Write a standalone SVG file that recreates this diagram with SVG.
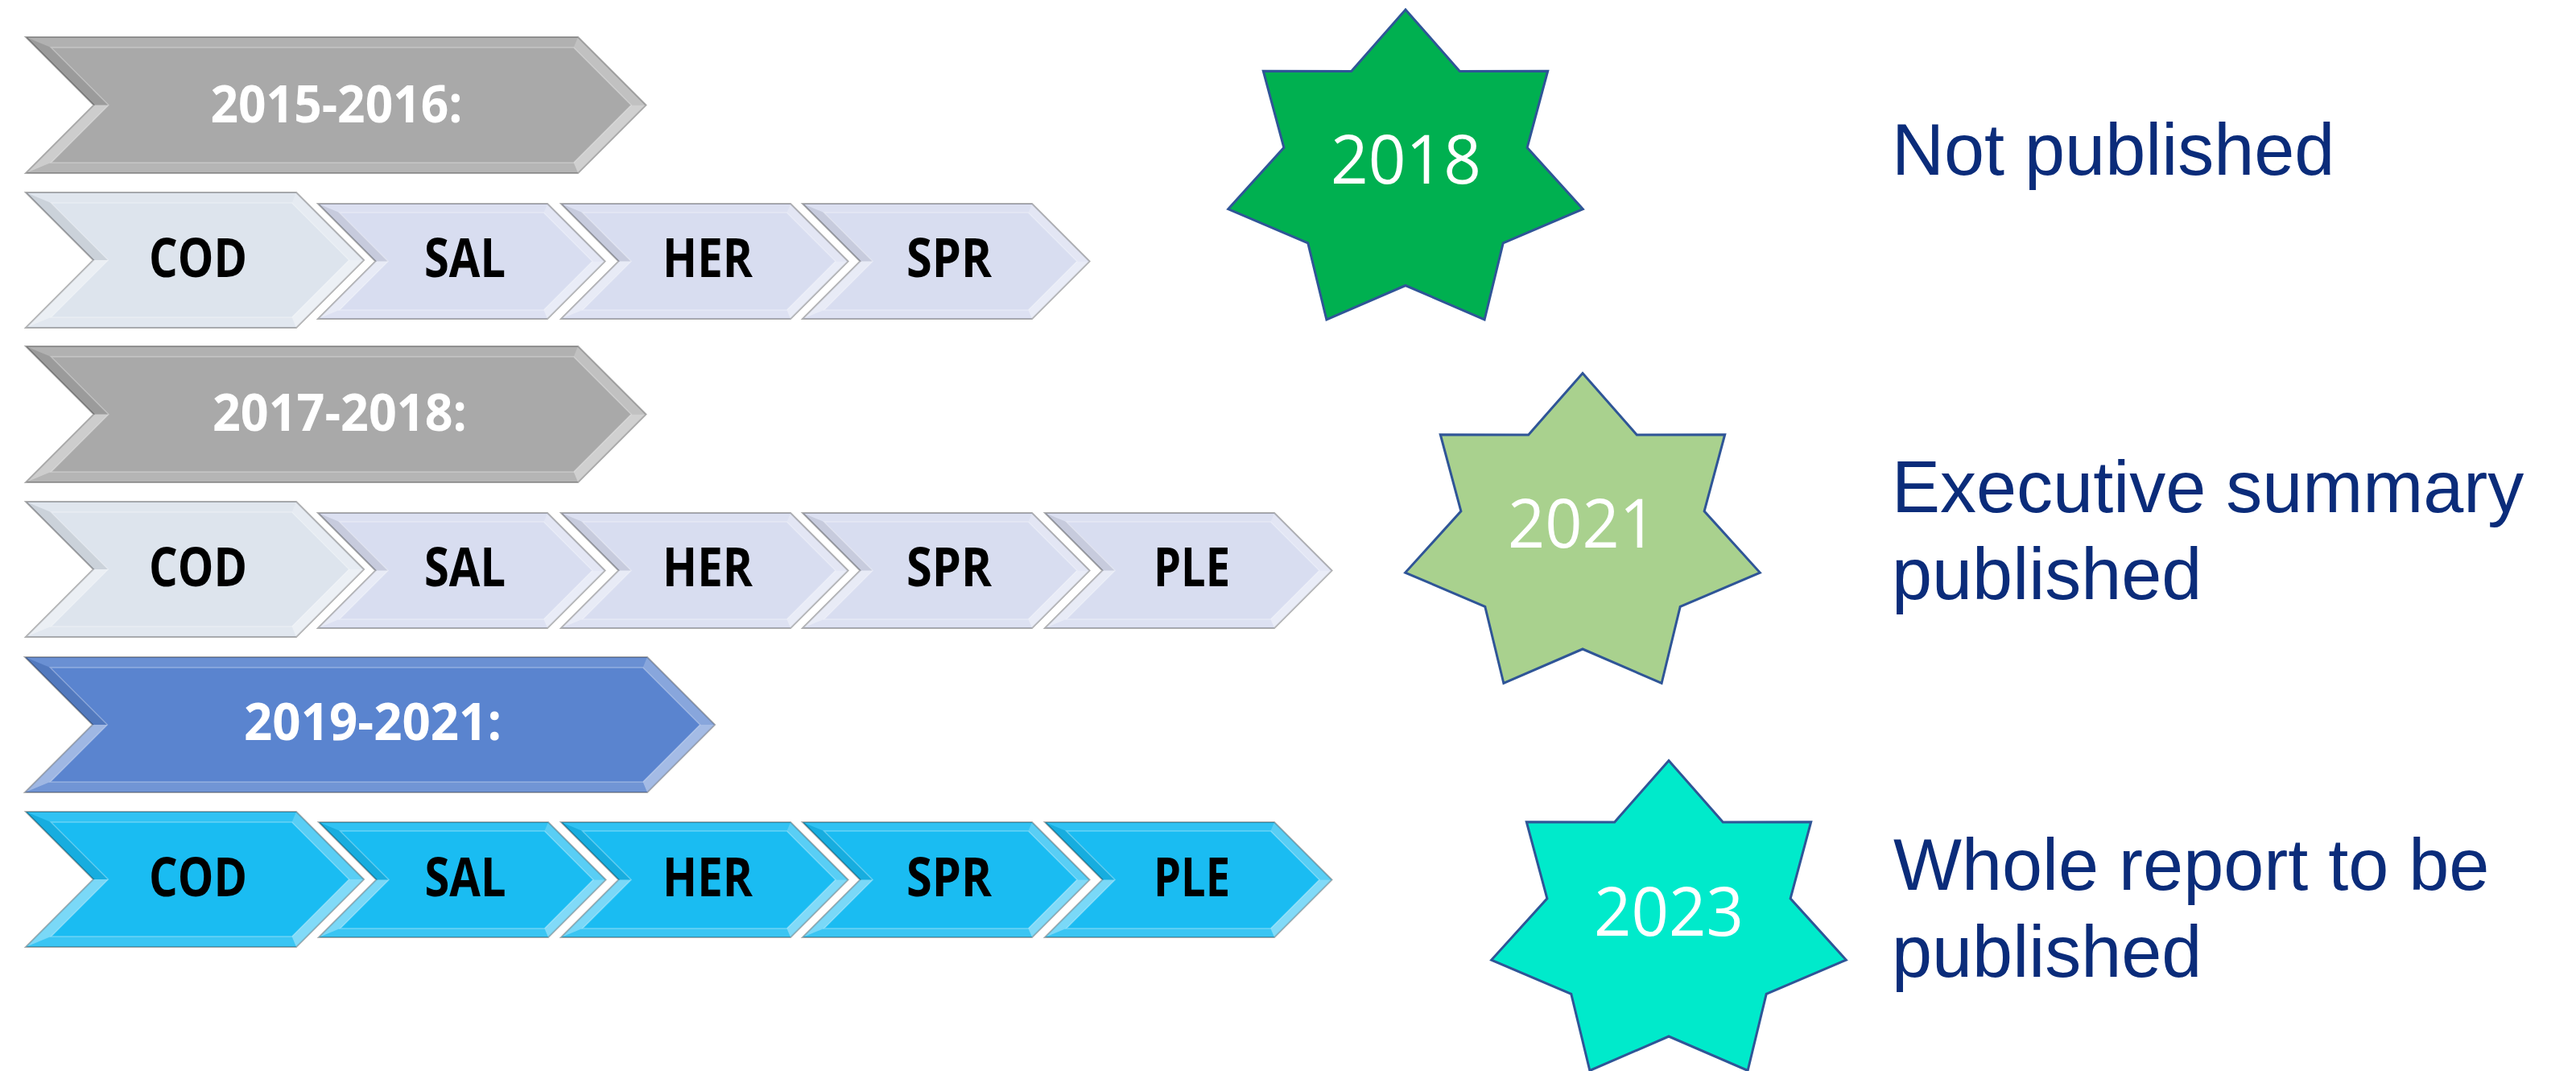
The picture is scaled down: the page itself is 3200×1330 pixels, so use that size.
<svg xmlns="http://www.w3.org/2000/svg" width="3200" height="1330" viewBox="0 0 3200 1330">
<style>
.base{stroke:#000;stroke-opacity:.32;stroke-width:2;stroke-linejoin:miter}
.ft{fill:#fff;fill-opacity:.10}
.fur{fill:#fff;fill-opacity:.28}
.flr{fill:#fff;fill-opacity:.45}
.fb{fill:#fff;fill-opacity:.14}
.fll{fill:#fff;fill-opacity:.42}
.ful{fill:#000;fill-opacity:.08}
.inner{fill:none;stroke:#fff;stroke-opacity:.3;stroke-width:1.5}
.hdr{font-family:"Open Sans","Liberation Sans",sans-serif;font-weight:700;font-size:64px;fill:#fff;text-anchor:middle}
.lbl{font-family:"Open Sans","Liberation Sans",sans-serif;font-weight:700;font-size:66px;fill:#000;text-anchor:middle}
.yr{font-family:"Open Sans","Liberation Sans",sans-serif;font-weight:400;font-size:85px;fill:#fff;text-anchor:middle}
.note{font-family:"Liberation Sans",Arial,sans-serif;font-size:90px;fill:#0B2C7A}
.star{stroke:#2F5597;stroke-width:3;stroke-linejoin:miter}
</style>
<defs>
<g id="chHdr">
<polygon class="base" points="0,0 686,0 770.5,84.5 686,169 0,169 84.5,84.5"/>
<polygon class="ft" points="0,0 686,0 680.6,13 31.4,13"/>
<polygon class="fur" points="686,0 770.5,84.5 752.1,84.5 680.6,13"/>
<polygon class="flr" points="770.5,84.5 686,169 680.6,156 752.1,84.5"/>
<polygon class="fb" points="686,169 0,169 31.4,156 680.6,156"/>
<polygon class="fll" points="0,169 84.5,84.5 102.9,84.5 31.4,156"/>
<polygon class="ful" points="84.5,84.5 0,0 31.4,13 102.9,84.5"/>
<polygon class="inner" points="31.4,13 680.6,13 752.1,84.5 680.6,156 31.4,156 102.9,84.5"/>
</g>
<g id="chHdr3">
<polygon class="base" points="0,0 773,0 857,84 773,168 0,168 84,84"/>
<polygon class="ft" points="0,0 773,0 767.6,13 31.4,13"/>
<polygon class="fur" points="773,0 857,84 838.6,84 767.6,13"/>
<polygon class="flr" points="857,84 773,168 767.6,155 838.6,84"/>
<polygon class="fb" points="773,168 0,168 31.4,155 767.6,155"/>
<polygon class="fll" points="0,168 84,84 102.4,84 31.4,155"/>
<polygon class="ful" points="84,84 0,0 31.4,13 102.4,84"/>
<polygon class="inner" points="31.4,13 767.6,13 838.6,84 767.6,155 31.4,155 102.4,84"/>
</g>
<g id="chCod">
<polygon class="base" points="0,0 336,0 420,84 336,168 0,168 84,84"/>
<polygon class="ft" points="0,0 336,0 330.6,13 31.4,13"/>
<polygon class="fur" points="336,0 420,84 401.6,84 330.6,13"/>
<polygon class="flr" points="420,84 336,168 330.6,155 401.6,84"/>
<polygon class="fb" points="336,168 0,168 31.4,155 330.6,155"/>
<polygon class="fll" points="0,168 84,84 102.4,84 31.4,155"/>
<polygon class="ful" points="84,84 0,0 31.4,13 102.4,84"/>
<polygon class="inner" points="31.4,13 330.6,13 401.6,84 330.6,155 31.4,155 102.4,84"/>
</g>
<g id="chSm">
<polygon class="base" points="0,0 285,0 356.5,71.5 285,143 0,143 71.5,71.5"/>
<polygon class="ft" points="0,0 285,0 280.4,11 26.6,11"/>
<polygon class="fur" points="285,0 356.5,71.5 340.9,71.5 280.4,11"/>
<polygon class="flr" points="356.5,71.5 285,143 280.4,132 340.9,71.5"/>
<polygon class="fb" points="285,143 0,143 26.6,132 280.4,132"/>
<polygon class="fll" points="0,143 71.5,71.5 87.1,71.5 26.6,132"/>
<polygon class="ful" points="71.5,71.5 0,0 26.6,11 87.1,71.5"/>
<polygon class="inner" points="26.6,11 280.4,11 340.9,71.5 280.4,132 26.6,132 87.1,71.5"/>
</g>
<polygon id="star7" class="star" points="0,-202.5 67.3,-126.1 176.7,-126.3 151.1,-31.2 220.3,45.1 121.2,87.3 98.1,182.5 0,140 -98.1,182.5 -121.2,87.3 -220.3,45.1 -151.1,-31.2 -176.7,-126.3 -67.3,-126.1"/>
</defs>

<g id="connectors"></g>

<!-- Row 1: 2015-2016 -->
<g id="hdr-2015"><use href="#chHdr" x="32" y="46" fill="#A9A9A9"/><text class="hdr" x="418" y="152" textLength="313" lengthAdjust="spacingAndGlyphs">2015-2016:</text></g>
<g id="r1-cod"><use href="#chCod" x="32" y="239" fill="#DDE4ED"/><text class="lbl" x="246" y="344" textLength="122" lengthAdjust="spacingAndGlyphs">COD</text></g>
<g id="r1-sal"><use href="#chSm" x="395" y="253" fill="#D8DDF0"/><text class="lbl" x="577.5" y="344" textLength="101" lengthAdjust="spacingAndGlyphs">SAL</text></g>
<g id="r1-her"><use href="#chSm" x="697" y="253" fill="#D8DDF0"/><text class="lbl" x="879" y="344" textLength="112" lengthAdjust="spacingAndGlyphs">HER</text></g>
<g id="r1-spr"><use href="#chSm" x="997" y="253" fill="#D8DDF0"/><text class="lbl" x="1179" y="344" textLength="106" lengthAdjust="spacingAndGlyphs">SPR</text></g>

<!-- Row 2: 2017-2018 -->
<g id="hdr-2017"><use href="#chHdr" x="32" y="430" fill="#A9A9A9"/><text class="hdr" x="422" y="535" textLength="316" lengthAdjust="spacingAndGlyphs">2017-2018:</text></g>
<g id="r2-cod"><use href="#chCod" x="32" y="623" fill="#DDE4ED"/><text class="lbl" x="246" y="728" textLength="122" lengthAdjust="spacingAndGlyphs">COD</text></g>
<g id="r2-sal"><use href="#chSm" x="395" y="637" fill="#D8DDF0"/><text class="lbl" x="577.5" y="728" textLength="101" lengthAdjust="spacingAndGlyphs">SAL</text></g>
<g id="r2-her"><use href="#chSm" x="697" y="637" fill="#D8DDF0"/><text class="lbl" x="879" y="728" textLength="112" lengthAdjust="spacingAndGlyphs">HER</text></g>
<g id="r2-spr"><use href="#chSm" x="997" y="637" fill="#D8DDF0"/><text class="lbl" x="1179" y="728" textLength="106" lengthAdjust="spacingAndGlyphs">SPR</text></g>
<g id="r2-ple"><use href="#chSm" x="1298" y="637" fill="#D8DDF0"/><text class="lbl" x="1480.5" y="728" textLength="95" lengthAdjust="spacingAndGlyphs">PLE</text></g>

<!-- Row 3: 2019-2021 -->
<g id="hdr-2019"><use href="#chHdr3" x="31" y="816" fill="#5A84CF"/><text class="hdr" x="463" y="919" textLength="320" lengthAdjust="spacingAndGlyphs">2019-2021:</text></g>
<g id="r3-cod"><use href="#chCod" x="32" y="1008" fill="#1ABCF2"/><text class="lbl" x="246" y="1113" textLength="122" lengthAdjust="spacingAndGlyphs">COD</text></g>
<g id="r3-sal"><use href="#chSm" x="396" y="1021" fill="#1ABCF2"/><text class="lbl" x="578" y="1113" textLength="101" lengthAdjust="spacingAndGlyphs">SAL</text></g>
<g id="r3-her"><use href="#chSm" x="697" y="1021" fill="#1ABCF2"/><text class="lbl" x="879" y="1113" textLength="112" lengthAdjust="spacingAndGlyphs">HER</text></g>
<g id="r3-spr"><use href="#chSm" x="997" y="1021" fill="#1ABCF2"/><text class="lbl" x="1179" y="1113" textLength="106" lengthAdjust="spacingAndGlyphs">SPR</text></g>
<g id="r3-ple"><use href="#chSm" x="1298" y="1021" fill="#1ABCF2"/><text class="lbl" x="1480.5" y="1113" textLength="95" lengthAdjust="spacingAndGlyphs">PLE</text></g>

<!-- Stars -->
<g id="star-2018"><use href="#star7" x="1746" y="214.5" fill="#00B050"/><text class="yr" x="1746.5" y="228" textLength="187" lengthAdjust="spacingAndGlyphs">2018</text></g>
<g id="star-2021"><use href="#star7" x="1966" y="666" fill="#A9D18E"/><text class="yr" x="1965.5" y="680" textLength="185" lengthAdjust="spacingAndGlyphs">2021</text></g>
<g id="star-2023"><use href="#star7" x="2073" y="1147" fill="#00EACB"/><text class="yr" x="2073" y="1162" textLength="186" lengthAdjust="spacingAndGlyphs">2023</text></g>

<!-- Notes -->
<g id="note-2018"><text class="note" x="2350" y="217">Not published</text></g>
<g id="note-2021"><text class="note" x="2350" y="636">Executive summary</text><text class="note" x="2350" y="744">published</text></g>
<g id="note-2023"><text class="note" x="2352" y="1105">Whole report to be</text><text class="note" x="2350" y="1213">published</text></g>
</svg>
